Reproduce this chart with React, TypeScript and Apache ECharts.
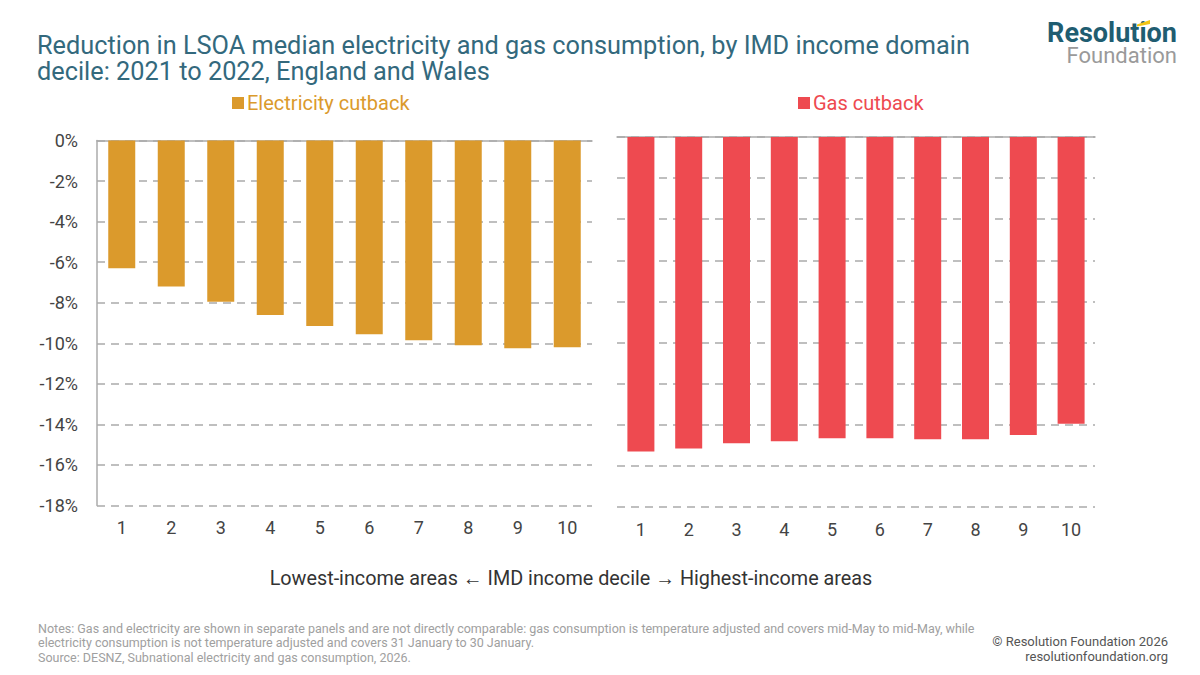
import React, { useEffect, useRef } from "react";
import * as echarts from "echarts";

const deciles = ["1", "2", "3", "4", "5", "6", "7", "8", "9", "10"];
const electricityCutback = [-6.3, -7.2, -7.95, -8.6, -9.15, -9.55, -9.85, -10.1, -10.25, -10.2];
const gasCutback = [-15.3, -15.15, -14.9, -14.8, -14.65, -14.65, -14.7, -14.7, -14.5, -13.95];
const seriesNames = ["Electricity cutback", "Gas cutback"];
const titleLines = [
  "Reduction in LSOA median electricity and gas consumption, by IMD income domain",
  "decile: 2021 to 2022, England and Wales",
];
const logoLines = ["Resolution", "Foundation"];
const axisTitle = "Lowest-income areas \u2190 IMD income decile \u2192 Highest-income areas";
const noteLines = [
  "Notes: Gas and electricity are shown in separate panels and are not directly comparable: gas consumption is temperature adjusted and covers mid-May to mid-May, while",
  "electricity consumption is not temperature adjusted and covers 31 January to 30 January.",
  "Source: DESNZ, Subnational electricity and gas consumption, 2026.",
];
const creditLines = ["\u00a9 Resolution Foundation 2026", "resolutionfoundation.org"];
const yMin = -18;
const yMax = 0;
const yStep = 2;

const ELEC = "#DB9A2C";
const GAS = "#EE4A50";
const FONT = "Roboto, 'Noto Sans', sans-serif";
const GRID_LINE = "#ababab";

export default function App() {
  const ref = useRef<HTMLDivElement>(null);
  useEffect(() => {
    if (!ref.current) return;
    const chart = echarts.init(ref.current, undefined, { renderer: "svg" });

    const bottomAxis = (gridIndex: number) => ({
      type: "category",
      gridIndex,
      data: deciles,
      position: "bottom",
      axisLine: { show: false },
      axisTick: { show: false },
      axisLabel: { color: "#444", fontSize: 18, fontFamily: FONT, margin: 13 },
      splitLine: { show: false },
    });
    const topAxis = (gridIndex: number) => ({
      type: "category",
      gridIndex,
      data: deciles,
      position: "top",
      axisLine: { show: true, onZero: false, lineStyle: { color: GRID_LINE, width: 1.5 } },
      axisTick: { show: false },
      axisLabel: { show: false },
      splitLine: { show: false },
    });
    const splitLine = {
      show: true,
      lineStyle: { color: GRID_LINE, width: 1.5, type: [8, 6] },
    };
    const legendBase = {
      icon: "rect",
      itemWidth: 12,
      itemHeight: 12,
      itemGap: 5,
      top: 88,
      selectedMode: false,
    };

    const option: any = {
      animation: false,
      backgroundColor: "#ffffff",
      textStyle: { fontFamily: FONT },
      legend: [
        {
          ...legendBase,
          data: [seriesNames[0]],
          left: 227,
          textStyle: { color: ELEC, fontSize: 20, fontFamily: FONT, padding: [0, 0, 0, -2] },
        },
        {
          ...legendBase,
          data: [seriesNames[1]],
          left: 793,
          textStyle: { color: GAS, fontSize: 20, fontFamily: FONT, padding: [0, 0, 0, -2] },
        },
      ],
      grid: [
        { left: 97, top: 140.5, width: 495, height: 365 },
        { left: 617, top: 137, width: 478, height: 370 },
      ],
      xAxis: [bottomAxis(0), topAxis(0), bottomAxis(1), topAxis(1)],
      yAxis: [
        {
          type: "value",
          gridIndex: 0,
          min: yMin,
          max: yMax,
          interval: yStep,
          axisLine: { show: true, lineStyle: { color: GRID_LINE, width: 1.5 } },
          axisTick: { show: false },
          axisLabel: {
            color: "#444",
            fontSize: 18,
            fontFamily: FONT,
            margin: 19,
            formatter: (v: number) => `${v}%`,
          },
          splitLine,
        },
        {
          type: "value",
          gridIndex: 1,
          min: yMin,
          max: yMax,
          interval: yStep,
          axisLine: { show: false },
          axisTick: { show: false },
          axisLabel: { show: false },
          splitLine,
        },
      ],
      series: [
        {
          name: seriesNames[0],
          type: "bar",
          xAxisIndex: 0,
          yAxisIndex: 0,
          data: electricityCutback,
          barWidth: 27,
          itemStyle: { color: ELEC },
        },
        {
          name: seriesNames[1],
          type: "bar",
          xAxisIndex: 2,
          yAxisIndex: 1,
          data: gasCutback,
          barWidth: 27,
          itemStyle: { color: GAS },
        },
      ],
      graphic: [
        {
          type: "text",
          x: 37,
          y: 58,
          style: {
            text: titleLines.join("\n"),
            fontSize: 25.3,
            lineHeight: 26,
            fontFamily: FONT,
            fill: "#33697d",
            textAlign: "left",
            textVerticalAlign: "middle",
          },
        },
        {
          type: "text",
          x: 1177,
          y: 44,
          style: {
            text: `{a|${logoLines[0]}}\n{b|${logoLines[1]}}`,
            fontFamily: FONT,
            textAlign: "right",
            textVerticalAlign: "middle",
            rich: {
              a: {
                fontSize: 27,
                lineHeight: 23,
                fontWeight: "bold",
                fontFamily: FONT,
                fill: "#1f5d71",
                align: "right",
              },
              b: {
                fontSize: 22,
                lineHeight: 22,
                fontFamily: FONT,
                fill: "#9a9a9a",
                align: "right",
              },
            },
          },
        },
        {
          type: "polygon",
          shape: { points: [[1137, 24.5], [1150, 20], [1150, 24], [1137, 26.5]] },
          style: { fill: "#F2C313" },
        },
        {
          type: "text",
          x: 571,
          y: 578,
          style: {
            text: axisTitle,
            fontSize: 19.8,
            fontFamily: FONT,
            fill: "#333",
            textAlign: "center",
            textVerticalAlign: "middle",
          },
        },
        ...noteLines.map((t, i) => ({
          type: "text",
          x: 38,
          y: 628 + i * 14.5,
          style: {
            text: t,
            fontSize: 12.5,
            lineHeight: 13,
            fontFamily: FONT,
            fill: "#a0a0a0",
            textAlign: "left",
            textVerticalAlign: "middle",
          },
        })),
        ...creditLines.map((t, i) => ({
          type: "text",
          x: 1168,
          y: 641 + i * 15,
          style: {
            text: t,
            fontSize: 13,
            lineHeight: 13,
            fontFamily: FONT,
            fill: "#555",
            textAlign: "right",
            textVerticalAlign: "middle",
          },
        })),
      ],
    };
    chart.setOption(option);
    return () => chart.dispose();
  }, []);
  return (
    <div
      ref={ref}
      style={{ position: "absolute", left: 0, top: 0, width: 1200, height: 675, background: "#fff" }}
    />
  );
}
